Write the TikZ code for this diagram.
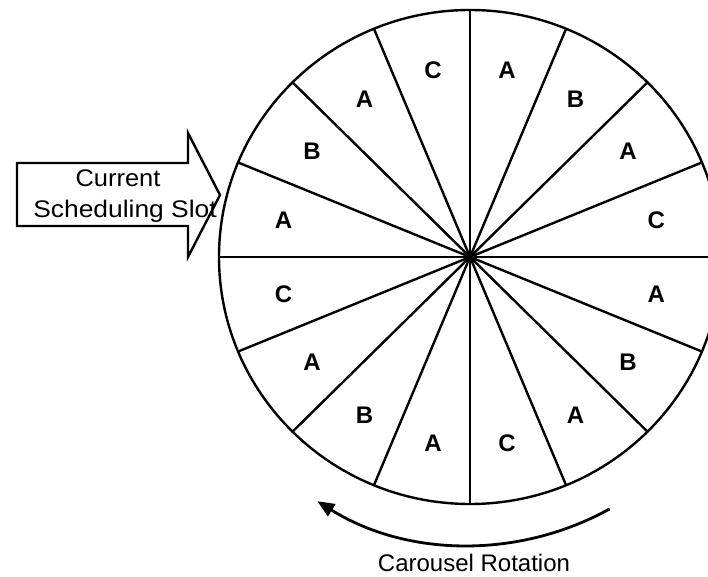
\documentclass[tikz,border=0pt]{standalone}
\usepackage{fontspec}
\setmainfont{Liberation Sans}
\usetikzlibrary{calc,arrows.meta}
\begin{document}
\begin{tikzpicture}[x=1pt,y=-1pt,
  wheel/.style={line width=2.4pt,black},
  seclabel/.style={font=\fontsize{24}{28}\selectfont\bfseries,inner sep=0pt},
  plain/.style={font=\fontsize{24}{28}\selectfont,inner sep=0pt,anchor=base},
  blockarrow/.style={line width=2.4pt,fill=white,line join=miter},
  rot/.style={line width=2.8pt,-{Triangle[length=17pt,width=14pt]}}]
\useasboundingbox (0,0) rectangle (708,577);
\clip (0,0) rectangle (708,577);
\fill[white] (0,0) rectangle (708,577);
\coordinate (c) at (470,257);
% wheel
\draw[wheel] (c) ellipse [x radius=251, y radius=247];
\foreach \a in {0,22.5,...,157.5}{
  \draw[wheel] ($(c)+(-\a:251 and 247)$) -- ($(c)+(-\a-180:251 and 247)$);
}
% sector labels
\foreach \a/\l [count=\i] in {78.75/A,56.25/B,33.75/A,11.25/C,-11.25/A,-33.75/B,-56.25/A,-78.75/C,-101.25/A,-123.75/B,-146.25/A,-168.75/C,168.75/A,146.25/B,123.75/A,101.25/C}{
  \node[seclabel] (s\i) at ($(c)+(-\a:190)$) {\l};
}
% block arrow
\draw[blockarrow] (17,163) -- (188,163) -- (188,133) -- (220,195) -- (188,257) -- (188,226) -- (17,226) -- cycle;
\node[plain] (cur) at (118,187) {\scalebox{1.06}[1]{Current}};
\node[plain] (sched) at (125,218) {\scalebox{1.1}[1]{Scheduling Slot}};
% rotation arrow
\coordinate (arcstart) at ($(c)+(61:288)$);
\draw[rot] (arcstart) arc[start angle=61, end angle=122, radius=288];
\node[plain] (carousel) at (474,571) {Carousel Rotation};
\end{tikzpicture}
\end{document}
